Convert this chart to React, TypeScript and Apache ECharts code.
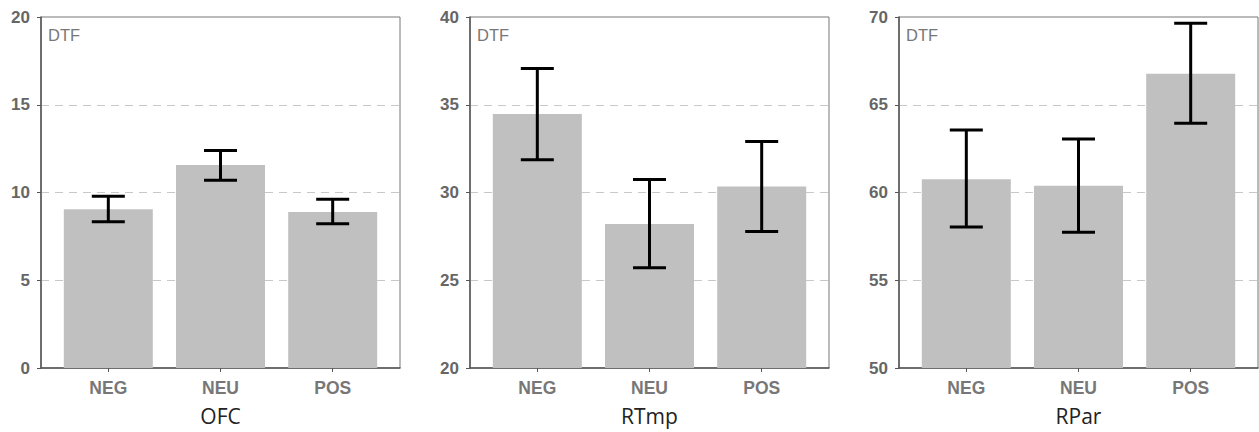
import React, { useEffect, useRef } from "react";
import * as echarts from "echarts";

const categories = ["NEG", "NEU", "POS"];
const regions = ["OFC", "RTmp", "RPar"];
const panelLabel = "DTF";

const ofcMean = [9.05, 11.57, 8.89];
const ofcLow = [8.34, 10.7, 8.22];
const ofcHigh = [9.78, 12.4, 9.61];

const rtmpMean = [34.47, 28.2, 30.34];
const rtmpLow = [31.87, 25.71, 27.78];
const rtmpHigh = [37.06, 30.74, 32.9];

const rparMean = [60.76, 60.38, 66.77];
const rparLow = [58.04, 57.73, 63.95];
const rparHigh = [63.56, 63.05, 69.65];

const yMins = [0, 20, 50];
const yMaxs = [20, 40, 70];
const yInterval = 5;

const means = [ofcMean, rtmpMean, rparMean];
const lows = [ofcLow, rtmpLow, rparLow];
const highs = [ofcHigh, rtmpHigh, rparHigh];

const catPositions = categories.map((_, j) => j + 1);

export default function App() {
  const ref = useRef<HTMLDivElement>(null);

  useEffect(() => {
    if (!ref.current) return;
    const chart = echarts.init(ref.current, undefined, { renderer: "svg" });
    const lefts = [41, 470, 899];
    const option: any = {
      animation: false,
      backgroundColor: "#fff",
      grid: lefts.map((l) => ({
        left: l,
        top: 17,
        width: 359,
        height: 351,
        show: true,
        borderColor: "#777",
        borderWidth: 1,
        backgroundColor: "transparent",
      })),
      xAxis: regions.map((name, i) => ({
        type: "value",
        gridIndex: i,
        min: 0.4,
        max: 3.6,
        splitLine: { show: false },
        axisLine: { show: true, onZero: false, lineStyle: { color: "#555", width: 1.5 } },
        axisTick: {
          show: true,
          customValues: catPositions,
          length: 4,
          lineStyle: { color: "#555" },
        },
        axisLabel: {
          customValues: catPositions,
          formatter: (v: number) => categories[Math.round(v) - 1] || "",
          margin: 11,
          fontWeight: "bold",
          fontSize: 17.5,
          color: "#777",
          fontFamily: "Liberation Sans",
        },
        name,
        nameLocation: "middle",
        nameGap: 37,
        nameTextStyle: { fontSize: 21, color: "#222", fontFamily: "Open Sans" },
      })),
      yAxis: regions.map((_, i) => ({
        type: "value",
        gridIndex: i,
        min: yMins[i],
        max: yMaxs[i],
        interval: yInterval,
        axisLine: { show: true, onZero: false, lineStyle: { color: "#555", width: 1.5 } },
        axisTick: { show: true, length: 4, lineStyle: { color: "#555" } },
        axisLabel: {
          margin: 11,
          fontWeight: "bold",
          fontSize: 17,
          color: "#666",
          fontFamily: "Liberation Sans",
        },
        splitLine: {
          show: true,
          showMinLine: false,
          showMaxLine: false,
          lineStyle: { color: "#c8c8c8", type: [8, 6], width: 1 },
        },
      })),
      graphic: lefts.map((l) => ({
        type: "text",
        left: l + 7,
        top: 26,
        style: { text: panelLabel, fontSize: 16.5, fill: "#777", fontFamily: "Liberation Sans" },
      })),
      series: [
        ...regions.map((_, i) => ({
          type: "bar",
          xAxisIndex: i,
          yAxisIndex: i,
          barWidth: 89,
          clip: true,
          itemStyle: { color: "#c0c0c0" },
          data: means[i].map((v, j) => [catPositions[j], v]),
        })),
        ...regions.map((_, i) => ({
          type: "custom",
          xAxisIndex: i,
          yAxisIndex: i,
          z: 5,
          encode: { x: 0, y: [1, 2] },
          data: lows[i].map((lo, j) => [catPositions[j], lo, highs[i][j]]),
          renderItem: (params: any, api: any) => {
            const x = api.value(0);
            const lo = api.coord([x, api.value(1)]);
            const hi = api.coord([x, api.value(2)]);
            const half = 16.5;
            const style = { stroke: "#000", lineWidth: 3 };
            return {
              type: "group",
              children: [
                { type: "line", shape: { x1: lo[0], y1: lo[1], x2: hi[0], y2: hi[1] }, style },
                { type: "line", shape: { x1: hi[0] - half, y1: hi[1], x2: hi[0] + half, y2: hi[1] }, style },
                { type: "line", shape: { x1: lo[0] - half, y1: lo[1], x2: lo[0] + half, y2: lo[1] }, style },
              ],
            };
          },
        })),
      ],
    };
    chart.setOption(option);
    return () => chart.dispose();
  }, []);

  return (
    <div
      ref={ref}
      style={{ position: "fixed", left: 0, top: 0, width: 1259, height: 432, background: "#fff" }}
    />
  );
}
